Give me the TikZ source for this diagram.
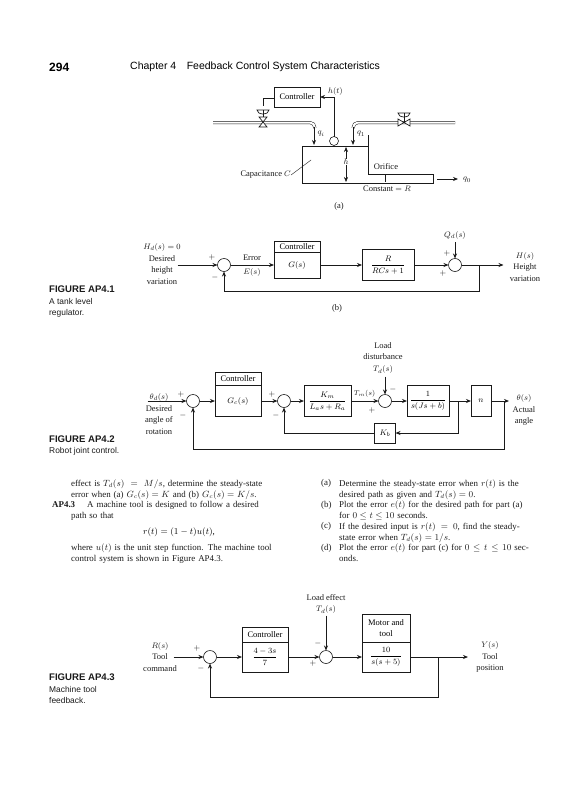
\documentclass[tikz,border=0pt]{standalone}
\usepackage{fontspec}
\usepackage{xcolor}
\usepackage{tikz}
\usetikzlibrary{positioning, arrows.meta, calc}
\setmainfont{Liberation Serif}
\newfontfamily\capfont{Liberation Sans}
\definecolor{bookInk}{HTML}{1A1A1A}
\tikzset{
  blockbox/.style={
    rectangle, draw=bookInk, line width=0.6pt,
    inner sep=0pt, outer sep=0pt,
    minimum width=#1, align=center,
    font=\fontsize{8.5}{10}\selectfont
  },
  sumnode/.style={
    circle, draw=bookInk, line width=0.6pt,
    inner sep=0pt, outer sep=0pt, minimum size=13pt
  },
  arrow/.style={
    -{Stealth[length=5pt, width=4pt]},
    bookInk, line width=0.8pt
  },
  plainline/.style={bookInk, line width=0.7pt},
  pipe/.style={bookInk, line width=0.5pt, double, double distance=2pt},
  lab/.style={
    inner sep=0pt, align=center, text=bookInk,
    font=\fontsize{8.5}{11.8}\selectfont
  },
  sgn/.style={inner sep=0pt, text=bookInk, font=\fontsize{8}{9}\selectfont},
  figcap/.style={
    anchor=north west, inner sep=0pt, align=left, text=bookInk,
    font=\capfont\fontsize{8.4}{11.4}\selectfont
  },
  bodytext/.style={
    anchor=north west, inner sep=0pt, text width=#1, text=bookInk,
    font=\fontsize{8.9}{10.7}\selectfont
  }
}
\begin{document}
\begin{tikzpicture}[x=1pt, y=-1pt]
  \useasboundingbox (0,0) rectangle (569,800);
  % page head
  \node[anchor=west, inner sep=0pt, font=\capfont\bfseries\fontsize{12}{14}\selectfont] (pageno) at (49,67) {294};
  \node[anchor=west, inner sep=0pt, font=\capfont\fontsize{10.5}{12}\selectfont] (chaptitle) at (130,67) {Chapter 4\quad Feedback Control System Characteristics};

  % (a) tank
  \node[blockbox=46pt, minimum height=20pt] (ctrlA) at (297,97) {Controller};
  \node[sumnode, minimum size=9pt] (sensor) at (334,141) {};
  \node[lab, anchor=west] (hlabel) at (328,91) {$h(t)$};
  \draw[arrow] (sensor) |- (ctrlA);
  \draw[pipe] (213,122.5) -- (310,122.5) to[out=0, in=90] (315,128);
  \draw[pipe] (455,122.5) -- (358,122.5) to[out=180, in=90] (353,128);
  \draw[plainline] (302,146) -- (368,146);
  \draw[plainline] (302,146) -- (302,183) -- (433,183) -- (433,174) -- (368,174) -- (368,135);
  % valves
  \draw[plainline, fill=white] (259,117) -- (267,117) -- (259,127) -- (267,127) -- cycle;
  \draw[plainline] (ctrlA.west |- 98,98) -| (263,106);
  \draw[plainline] (263,110) -- (263,117);
  \draw[plainline] (257,110) arc[start angle=180, end angle=0, x radius=6, y radius=4] -- cycle;
  \draw[plainline, fill=white] (398,119) -- (398,126) -- (410,119) -- (410,126) -- cycle;
  \draw[plainline] (404,122.5) -- (404,113);
  \draw[plainline] (398,113) arc[start angle=180, end angle=0, x radius=6, y radius=4] -- cycle;
  % flows and levels
  \coordinate (qiTop) at (314,127);
  \coordinate (qiEnd) at (314,145);
  \coordinate (qoTop) at (353,127);
  \coordinate (qoEnd) at (353,145);
  \draw[arrow] (qiTop) -- (qiEnd);
  \draw[arrow] (qoTop) -- (qoEnd);
  \node[lab] (qilabel) at (321,134) {$q_i$};
  \node[lab] (qolabel) at (361,134) {$q_1$};
  \node[lab] (levelh) at (346,162) {$h$};
  \draw[arrow, line width=0.5pt] (levelh) -- (346,147);
  \draw[arrow, line width=0.5pt] (levelh) -- (346,182);
  \node[lab] (orifice) at (386,167) {Orifice};
  \draw[plainline, line width=0.5pt] (385,175) -- (385,182);
  \node[lab] (constR) at (387,189) {Constant $=R$};
  \node[lab, anchor=east] (capC) at (291,175) {Capacitance $C$};
  \draw[plainline, line width=0.4pt] (capC.east) -- (311,160);
  \coordinate (qoutA) at (437,179);
  \coordinate (qoutB) at (458,179);
  \draw[arrow] (qoutA) -- (qoutB);
  \node[lab] (qoutlabel) at (467,180) {$q_0$};
  \node[lab] (capa) at (339,206) {(a)};

  % (b) loop
  \node[sumnode] (sumB) at (224,265) {};
  \node[blockbox=46pt, minimum height=26pt, right=43.5pt of sumB] (plantG) {$G(s)$};
  \node[blockbox=46pt, minimum height=11pt, above=0pt of plantG] (headG) {Controller};
  \node[blockbox=52pt, minimum height=31pt, right=42pt of plantG] (plantR) {$\displaystyle\frac{R}{RCs+1}$};
  \node[sumnode, right=34.5pt of plantR] (sumQ) {};
  \coordinate[left=40pt of sumB] (inB);
  \coordinate[right=42pt of sumQ] (outB);
  \coordinate[right=18pt of sumQ.east] (fbB);
  \coordinate[above=16.5pt of sumQ] (qdB);
  \draw[arrow] (inB) -- (sumB);
  \draw[arrow] (sumB) -- (plantG);
  \draw[arrow] (plantG) -- (plantR);
  \draw[arrow] (plantR) -- (sumQ);
  \draw[arrow] (sumQ) -- (outB);
  \draw[arrow] (qdB) -- (sumQ);
  \draw[arrow] (fbB) -- ++(0,26) -| (sumB);
  \node[lab] (mdlabel) at (162,264) {$H_d(s)=0$\\Desired\\height\\variation};
  \node[lab] (errtop) at (252,258) {Error};
  \node[lab] (errbot) at (252,272) {$E(s)$};
  \node[lab] (qdlabel) at (455,235) {$Q_d(s)$};
  \node[lab] (outlabelB) at (525,267) {$H(s)$\\Height\\variation};
  \node[sgn] (plusBa) at (212,257) {$+$};
  \node[sgn] (minusBa) at (215,277) {$-$};
  \node[sgn] (plusBb) at (447,253) {$+$};
  \node[sgn] (plusBc) at (443,273) {$+$};
  \node[lab] (capb) at (337,308) {(b)};
  \node[figcap] (figone) at (49,286) {{\bfseries\fontsize{9.6}{11.4}\selectfont FIGURE AP4.1}\\A tank level\\regulator.};

  % robot joint loop
  \node[sumnode] (sumC) at (193,401) {};
  \node[blockbox=46pt, minimum height=31pt, right=15.5pt of sumC] (plantGc) {$G_c(s)$};
  \node[blockbox=46pt, minimum height=13pt, above=0pt of plantGc] (headGc) {Controller};
  \node[sumnode, right=16.5pt of plantGc] (sumV) {};
  \node[blockbox=47pt, minimum height=31pt, right=13.5pt of sumV] (plantKm) {$\displaystyle\frac{K_m}{L_as+R_a}$};
  \node[sumnode, right=27.5pt of plantKm] (sumT) {};
  \node[blockbox=42pt, minimum height=31pt, right=15.5pt of sumT] (plantJ) {$\displaystyle\frac{1}{s(Js+b)}$};
  \node[blockbox=20pt, minimum height=31pt, right=22pt of plantJ] (plantN) {$n$};
  \node[blockbox=21pt, minimum height=20pt, below=15.5pt of sumT] (plantKb) {$K_b$};
  \coordinate[left=39pt of sumC] (inC);
  \coordinate[right=18pt of plantN] (outC);
  \coordinate[right=9pt of plantJ] (brKb);
  \coordinate[right=13pt of plantN] (brC);
  \coordinate[above=18pt of sumT] (tdC);
  \draw[arrow] (inC) -- (sumC);
  \draw[arrow] (sumC) -- (plantGc);
  \draw[arrow] (plantGc) -- (sumV);
  \draw[arrow] (sumV) -- (plantKm);
  \draw[arrow] (plantKm) -- (sumT);
  \draw[arrow] (sumT) -- (plantJ);
  \draw[arrow] (plantJ) -- (plantN);
  \draw[arrow] (plantN) -- (outC);
  \draw[arrow] (tdC) -- (sumT);
  \draw[arrow] (brKb) |- (plantKb);
  \draw[arrow] (plantKb) -| (sumV);
  \draw[arrow] (brC) -- ++(0,48) -| (sumC);
  \node[lab] (loadC) at (383,358) {Load\\disturbance\\$T_d(s)$};
  \node[lab] (inlabelC) at (159,414) {$\theta_d(s)$\\Desired\\angle of\\rotation};
  \node[lab, font=\fontsize{7.5}{9}\selectfont] (tmlabel) at (364.5,394) {$T_m(s)$};
  \node[lab] (outlabelC) at (524,410) {$\theta(s)$\\Actual\\angle};
  \node[sgn] (plusCa) at (181,394) {$+$};
  \node[sgn] (minusCa) at (183,415) {$-$};
  \node[sgn] (plusCb) at (272,394) {$+$};
  \node[sgn] (minusCb) at (276,415) {$-$};
  \node[sgn] (plusCc) at (372,410) {$+$};
  \node[sgn] (minusCc) at (393,389) {$-$};
  \node[figcap] (figtwo) at (49,435.5) {{\bfseries\fontsize{9.6}{11.4}\selectfont FIGURE AP4.2}\\Robot joint control.};

  % body text
  \node[bodytext=216pt] (parone) at (71,479.5) {effect is $T_d(s)=M/s$, determine the steady-state\linebreak error when (a) $G_c(s)=K$ and (b) $G_c(s)=K/s$.};
  \node[bodytext=30pt] (aplabel) at (52,501) {\textbf{AP4.3}};
  \node[bodytext=216pt] (partwo) at (71,501) {\hspace*{16pt}A machine tool is designed to follow a desired\linebreak path so that};
  \node[inner sep=0pt, font=\fontsize{8.9}{10.7}\selectfont] (eqn) at (179,532) {$r(t)=(1-t)u(t)$,};
  \node[bodytext=216pt] (parthree) at (71,544) {where $u(t)$ is the unit step function. The machine tool\linebreak control system is shown in Figure AP4.3.};
  \node[bodytext=18pt] (itema) at (321,479.5) {(a)};
  \node[bodytext=198pt] (texta) at (339,479.5) {Determine the steady-state error when $r(t)$ is the\linebreak desired path as given and $T_d(s)=0$.};
  \node[bodytext=18pt] (itemb) at (321,501) {(b)};
  \node[bodytext=198pt] (textb) at (339,501) {Plot the error $e(t)$ for the desired path for part (a)\linebreak for $0\le t\le 10$ seconds.};
  \node[bodytext=18pt] (itemc) at (321,522.5) {(c)};
  \node[bodytext=198pt] (textc) at (339,522.5) {If the desired input is $r(t)=0$, find the steady-\linebreak state error when $T_d(s)=1/s$.};
  \node[bodytext=18pt] (itemd) at (321,544) {(d)};
  \node[bodytext=198pt] (textd) at (339,544) {Plot the error $e(t)$ for part (c) for $0\le t\le 10$ sec-\linebreak onds.};

  % machine tool loop
  \node[sumnode] (sumD) at (210,657) {};
  \node[blockbox=46pt, minimum height=30pt, right=25.5pt of sumD] (plantC) {$\displaystyle\frac{4-3s}{7}$};
  \node[blockbox=46pt, minimum height=15pt, above=0pt of plantC] (headC) {Controller};
  \node[sumnode, right=31.5pt of plantC] (sumL) {};
  \node[blockbox=48pt, minimum height=30pt, right=29.5pt of sumL] (plantM) {$\displaystyle\frac{10}{s(s+5)}$};
  \node[blockbox=48pt, minimum height=28pt, above=0pt of plantM, font=\fontsize{8.5}{10.5}\selectfont] (headM) {Motor and\\tool};
  \coordinate[left=30pt of sumD] (inD);
  \coordinate[right=58pt of plantM] (outD);
  \coordinate[right=28pt of plantM] (brD);
  \coordinate[above=35pt of sumL] (tdD);
  \draw[arrow] (inD) -- (sumD);
  \draw[arrow] (sumD) -- (plantC);
  \draw[arrow] (plantC) -- (sumL);
  \draw[arrow] (sumL) -- (plantM);
  \draw[arrow] (plantM) -- (outD);
  \draw[arrow] (tdD) -- (sumL);
  \draw[arrow] (brD) -- ++(0,40) -| (sumD);
  \node[lab] (loadD) at (326,604) {Load effect\\$T_d(s)$};
  \node[lab] (inlabelD) at (160,657) {$R(s)$\\Tool\\command};
  \node[lab] (outlabelD) at (490,657) {$Y(s)$\\Tool\\position};
  \node[sgn] (plusDa) at (197,648) {$+$};
  \node[sgn] (minusDa) at (201,668) {$-$};
  \node[sgn] (minusDb) at (318,643) {$-$};
  \node[sgn] (plusDb) at (313,663) {$+$};
  \node[figcap] (figthree) at (49,674) {{\bfseries\fontsize{9.6}{11.4}\selectfont FIGURE AP4.3}\\Machine tool\\feedback.};
\end{tikzpicture}
\end{document}
